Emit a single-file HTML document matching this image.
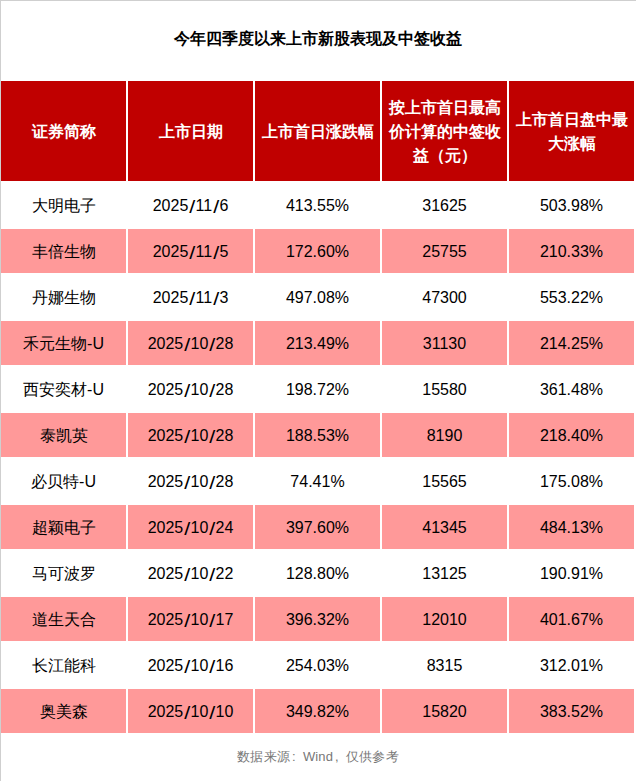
<!DOCTYPE html>
<html><head><meta charset="utf-8"><style>
*{margin:0;padding:0;box-sizing:border-box}
html,body{width:636px;height:781px;background:#fff;overflow:hidden}
body{position:relative;font-family:"Liberation Sans",sans-serif;color:#111}
.bt{position:absolute;left:0;top:0;width:636px;height:1px;background:#cfcfcf}
.bl{position:absolute;left:0;top:0;width:1px;height:781px;background:#cfcfcf}
.title{position:absolute;left:0;top:29px;width:636px;text-align:center;font-size:16px;font-weight:bold;line-height:20px;color:#000}
.c{position:absolute;width:125px;display:flex;align-items:center;justify-content:center;text-align:center}
.h{top:81px;height:100px;padding-top:2px;background:#c00000;color:#fff;font-weight:bold;font-size:16px;line-height:24px}
.r{height:44px;font-size:16px;color:#000;padding-top:2px}
.p{background:#ff9999}
.pc{display:inline-block;width:13px;text-align:left;padding-left:2px}
.sl{display:inline-block;margin:0 1.4px;transform:translateY(1px) scale(1.35,1.15)}
.foot{position:absolute;left:0;top:748px;width:636px;text-align:center;font-size:13px;color:#777;line-height:18px;letter-spacing:0.15px}
</style></head><body>
<div class="bt"></div><div class="bl"></div>
<div class="title">今年四季度以来上市新股表现及中签收益</div>

<div class="c h" style="left:1px">证券简称</div>
<div class="c h" style="left:128px">上市日期</div>
<div class="c h" style="left:255px">上市首日涨跌幅</div>
<div class="c h" style="left:382px">按上市首日最高<br>价计算的中签收<br>益（元）</div>
<div class="c h" style="left:509px">上市首日盘中最<br>大涨幅</div>
<div class="c r" style="left:1px;top:183px">大明电子</div>
<div class="c r" style="left:128px;top:183px">2025<span class="sl">/</span>11<span class="sl">/</span>6</div>
<div class="c r" style="left:255px;top:183px">413.55%</div>
<div class="c r" style="left:382px;top:183px">31625</div>
<div class="c r" style="left:509px;top:183px">503.98%</div>
<div class="c r p" style="left:1px;top:229px">丰倍生物</div>
<div class="c r p" style="left:128px;top:229px">2025<span class="sl">/</span>11<span class="sl">/</span>5</div>
<div class="c r p" style="left:255px;top:229px">172.60%</div>
<div class="c r p" style="left:382px;top:229px">25755</div>
<div class="c r p" style="left:509px;top:229px">210.33%</div>
<div class="c r" style="left:1px;top:275px">丹娜生物</div>
<div class="c r" style="left:128px;top:275px">2025<span class="sl">/</span>11<span class="sl">/</span>3</div>
<div class="c r" style="left:255px;top:275px">497.08%</div>
<div class="c r" style="left:382px;top:275px">47300</div>
<div class="c r" style="left:509px;top:275px">553.22%</div>
<div class="c r p" style="left:1px;top:321px">禾元生物-U</div>
<div class="c r p" style="left:128px;top:321px">2025<span class="sl">/</span>10<span class="sl">/</span>28</div>
<div class="c r p" style="left:255px;top:321px">213.49%</div>
<div class="c r p" style="left:382px;top:321px">31130</div>
<div class="c r p" style="left:509px;top:321px">214.25%</div>
<div class="c r" style="left:1px;top:367px">西安奕材-U</div>
<div class="c r" style="left:128px;top:367px">2025<span class="sl">/</span>10<span class="sl">/</span>28</div>
<div class="c r" style="left:255px;top:367px">198.72%</div>
<div class="c r" style="left:382px;top:367px">15580</div>
<div class="c r" style="left:509px;top:367px">361.48%</div>
<div class="c r p" style="left:1px;top:413px">泰凯英</div>
<div class="c r p" style="left:128px;top:413px">2025<span class="sl">/</span>10<span class="sl">/</span>28</div>
<div class="c r p" style="left:255px;top:413px">188.53%</div>
<div class="c r p" style="left:382px;top:413px">8190</div>
<div class="c r p" style="left:509px;top:413px">218.40%</div>
<div class="c r" style="left:1px;top:459px">必贝特-U</div>
<div class="c r" style="left:128px;top:459px">2025<span class="sl">/</span>10<span class="sl">/</span>28</div>
<div class="c r" style="left:255px;top:459px">74.41%</div>
<div class="c r" style="left:382px;top:459px">15565</div>
<div class="c r" style="left:509px;top:459px">175.08%</div>
<div class="c r p" style="left:1px;top:505px">超颖电子</div>
<div class="c r p" style="left:128px;top:505px">2025<span class="sl">/</span>10<span class="sl">/</span>24</div>
<div class="c r p" style="left:255px;top:505px">397.60%</div>
<div class="c r p" style="left:382px;top:505px">41345</div>
<div class="c r p" style="left:509px;top:505px">484.13%</div>
<div class="c r" style="left:1px;top:551px">马可波罗</div>
<div class="c r" style="left:128px;top:551px">2025<span class="sl">/</span>10<span class="sl">/</span>22</div>
<div class="c r" style="left:255px;top:551px">128.80%</div>
<div class="c r" style="left:382px;top:551px">13125</div>
<div class="c r" style="left:509px;top:551px">190.91%</div>
<div class="c r p" style="left:1px;top:597px">道生天合</div>
<div class="c r p" style="left:128px;top:597px">2025<span class="sl">/</span>10<span class="sl">/</span>17</div>
<div class="c r p" style="left:255px;top:597px">396.32%</div>
<div class="c r p" style="left:382px;top:597px">12010</div>
<div class="c r p" style="left:509px;top:597px">401.67%</div>
<div class="c r" style="left:1px;top:643px">长江能科</div>
<div class="c r" style="left:128px;top:643px">2025<span class="sl">/</span>10<span class="sl">/</span>16</div>
<div class="c r" style="left:255px;top:643px">254.03%</div>
<div class="c r" style="left:382px;top:643px">8315</div>
<div class="c r" style="left:509px;top:643px">312.01%</div>
<div class="c r p" style="left:1px;top:689px">奥美森</div>
<div class="c r p" style="left:128px;top:689px">2025<span class="sl">/</span>10<span class="sl">/</span>10</div>
<div class="c r p" style="left:255px;top:689px">349.82%</div>
<div class="c r p" style="left:382px;top:689px">15820</div>
<div class="c r p" style="left:509px;top:689px">383.52%</div>
<div class="foot">数据来源<span class="pc">:</span>Wind<span class="pc">,</span>仅供参考</div>
</body></html>
